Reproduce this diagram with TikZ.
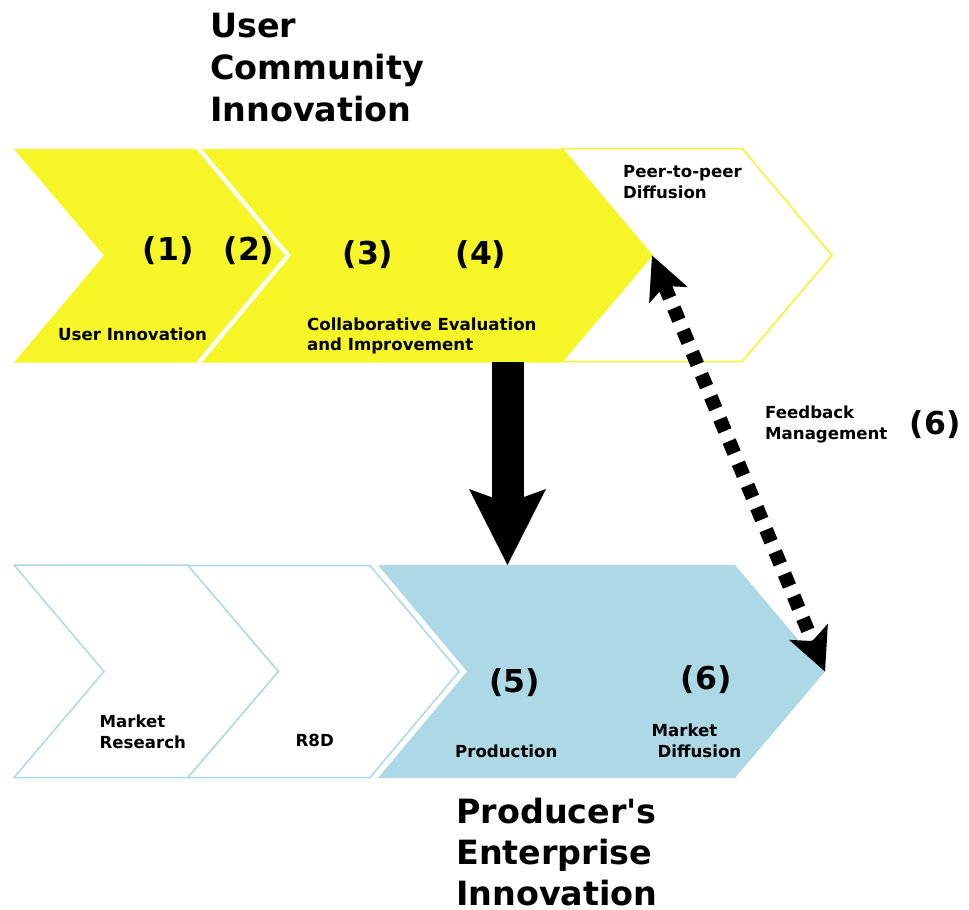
\documentclass[tikz,border=0pt]{standalone}
\usepackage{fontspec}
\setmainfont{DejaVu Sans}[Ligatures=TeXOff]
\usetikzlibrary{arrows.meta}
\definecolor{cyell}{RGB}{246,245,40}
\definecolor{cblue}{RGB}{173,216,230}
\begin{document}
\begin{tikzpicture}[x=1pt,y=-1pt,
  ttl/.style={font=\fontsize{33.4}{41}\selectfont\bfseries, anchor=base west, inner sep=0pt},
  num/.style={font=\fontsize{31.5}{38}\selectfont\bfseries, inner sep=0pt},
  lbl/.style={font=\fontsize{16.6}{20}\selectfont\bfseries, anchor=base west, inner sep=0pt},
  yfill/.style={fill=cyell},
  youtline/.style={draw=cyell, line width=1.5pt, fill=white},
  bfill/.style={fill=cblue},
  boutline/.style={draw=cblue, line width=1.5pt, fill=white},
  bigarrow/.style={line width=32pt, -{Stealth[length=76pt, width=77pt, inset=14pt, line width=0pt]}},
  fbarrow/.style={line width=14pt, dash pattern=on 13pt off 11pt, {Stealth[length=43pt, width=42pt, inset=10pt, line width=0pt]}-{Stealth[length=43pt, width=42pt, inset=10pt, line width=0pt]}},
]
\useasboundingbox (0,0) rectangle (969,910);
\fill[white] (0,0) rectangle (969,910);

% ---- top row (user community) ----
\path[yfill] (14,149) -- (196,149) -- (285,255.5) -- (196,362.5) -- (14,362.5) -- (104,255.5) -- cycle;
\path[yfill] (202,149) -- (562,149) -- (652,255.5) -- (562,362.5) -- (202,362.5) -- (291,255.5) -- cycle;
\path[youtline] (562,148.5) -- (742,148.5) -- (832,255.5) -- (742,361.5) -- (562,361.5) -- (652,255.5) -- cycle;

% ---- bottom row (producer) ----
\path[boutline] (14,565) -- (188,565) -- (278.5,671.5) -- (188,777.5) -- (14,777.5) -- (104,671.5) -- cycle;
\path[boutline] (188,565.5) -- (370,565.5) -- (459,671.5) -- (370,777.5) -- (188,777.5) -- (278.5,671.5) -- cycle;
\path[bfill] (378,565) -- (735,565) -- (825,671.5) -- (735,778) -- (378,778) -- (467,671.5) -- cycle;

% ---- connector anchors ----
\coordinate (cevbottom) at (507.5,362);
\coordinate (prodtop) at (507.5,565);
\coordinate (cevtip) at (652,255.5);
\coordinate (mkttip) at (825,671.5);

\draw[bigarrow] (cevbottom) -- (prodtop);
\draw[fbarrow] (cevtip) -- (mkttip);

% ---- titles ----
\node[ttl] (t1a) at (210,37) {User};
\node[ttl] (t1b) at (210,79) {Community};
\node[ttl] (t1c) at (210,121) {Innovation};
\node[ttl] (t2a) at (456,823) {Producer's};
\node[ttl] (t2b) at (456,864.5) {Enterprise};
\node[ttl] (t2c) at (456,905) {Innovation};

% ---- numbers ----
\node[num] (n1) at (168.3,250.8) {(1)};
\node[num] (n2) at (249,250.8) {(2)};
\node[num] (n3) at (368,254.3) {(3)};
\node[num] (n4) at (481,254.7) {(4)};
\node[num] (n5) at (514.7,682.2) {(5)};
\node[num] (n6) at (706.2,679.5) {(6)};
\node[num] (n6b) at (935.3,424.5) {(6)};

% ---- labels ----
\node[lbl] (ui) at (58,340) {User Innovation};
\node[lbl] (cea) at (307,330.5) {Collaborative Evaluation};
\node[lbl] (ceb) at (307,350.7) {and Improvement};
\node[lbl] (ppa) at (623,177.7) {Peer-to-peer};
\node[lbl] (ppb) at (623,198.3) {Diffusion};
\node[lbl] (fma) at (765,418.3) {Feedback};
\node[lbl] (fmb) at (765,439) {Management};
\node[lbl] (mra) at (99.5,727.3) {Market};
\node[lbl] (mrb) at (99.5,748.3) {Research};
\node[lbl] (rd) at (295.5,746) {R8D};
\node[lbl] (pr) at (455,757.3) {Production};
\node[lbl] (mda) at (651.5,736.7) {Market};
\node[lbl] (mdb) at (657.5,757.7) {Diffusion};
\end{tikzpicture}
\end{document}
